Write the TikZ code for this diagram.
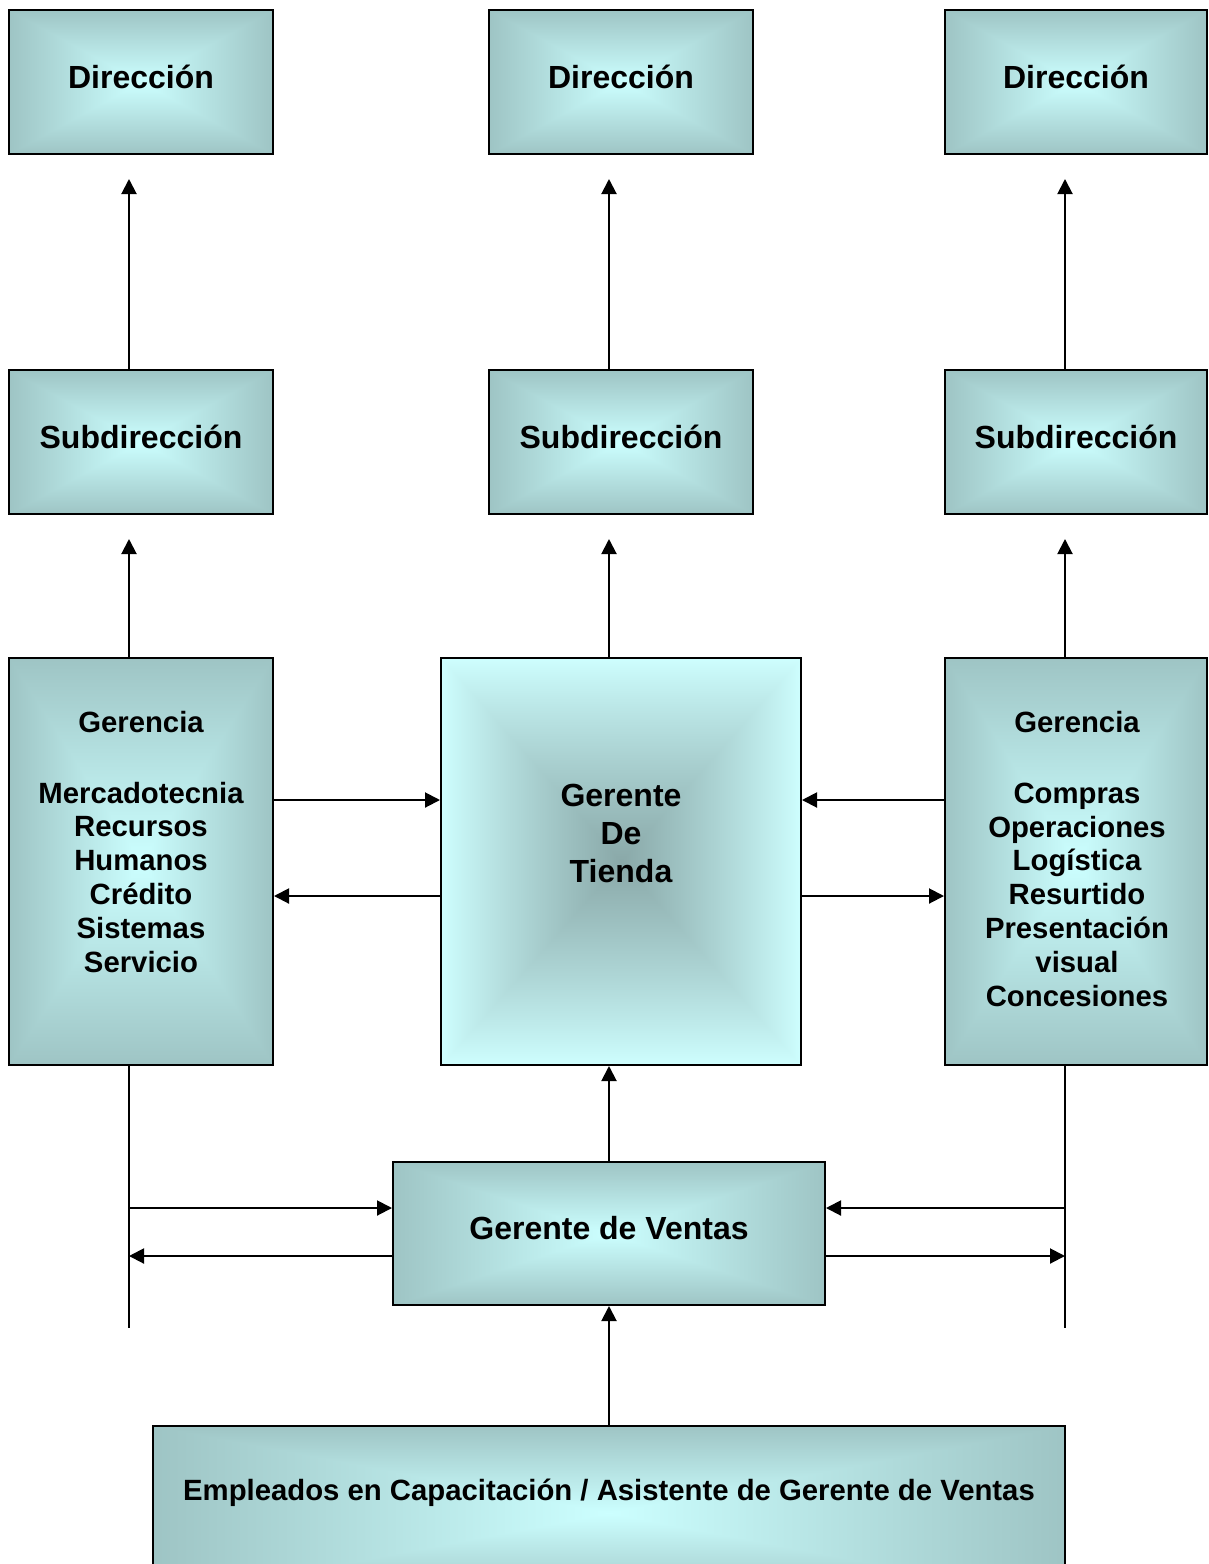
\documentclass[tikz,border=0pt]{standalone}
\usepackage{fontspec}
\setmainfont{Liberation Sans}
\usetikzlibrary{arrows.meta,calc}

\pgfdeclarefunctionalshading{boxsh}{\pgfpoint{0bp}{0bp}}{\pgfpoint{100bp}{100bp}}{}{
 50 sub abs 25 div exch 50 sub abs 25 div 2 copy lt {exch} if pop
 dup 1 gt {pop 1} if
 dup -0.18 mul 0.80 add exch dup -0.23 mul 1.0 add exch -0.23 mul 1.0 add
}
\pgfdeclarefunctionalshading{midsh}{\pgfpoint{0bp}{0bp}}{\pgfpoint{100bp}{100bp}}{}{
 50 sub abs 25 div exch 50 sub abs 25 div 2 copy lt {exch} if pop
 dup 1 gt {pop 1} if
 1 exch sub 0.9 exp
 dup -0.27 mul 0.81 add exch dup -0.34 mul 1.0 add exch -0.34 mul 1.0 add
}

\tikzset{
  box/.style={draw=black, line width=2pt, shading=boxsh, inner sep=0pt,
    font=\bfseries\fontsize{32}{37.6}\selectfont, text height=20pt, text depth=8pt},
  midbox/.style={draw=black, line width=2pt, shading=midsh, inner sep=0pt},
  txt/.style={font=\bfseries\fontsize{32}{37.6}\selectfont, align=center, inner sep=0pt},
  txtsm/.style={font=\bfseries\fontsize{29.3}{33.8}\selectfont, align=center, inner sep=0pt},
  conn/.style={line width=2pt},
  arr/.style={line width=2pt, -{Triangle[length=15pt,width=15pt]}},
}

\begin{document}
\begin{tikzpicture}[x=1pt,y=-1pt]
\useasboundingbox (0,0) rectangle (1209,1564);
\clip (0,0) rectangle (1209,1564);

% Dirección row
\node[box, minimum width=264pt, minimum height=144pt] (dir1) at (141,82) {Dirección};
\node[box, minimum width=264pt, minimum height=144pt] (dir2) at (621,82) {Dirección};
\node[box, minimum width=262pt, minimum height=144pt] (dir3) at (1076,82) {Dirección};

% Subdirección row
\node[box, minimum width=264pt, minimum height=144pt] (sub1) at (141,442) {Subdirección};
\node[box, minimum width=264pt, minimum height=144pt] (sub2) at (621,442) {Subdirección};
\node[box, minimum width=262pt, minimum height=144pt] (sub3) at (1076,442) {Subdirección};

% Gerencia row
\node[box, minimum width=264pt, minimum height=407pt] (g1) at (141,861.5) {};
\node[midbox, minimum width=360pt, minimum height=407pt] (gt) at (621,861.5) {};
\node[box, minimum width=262pt, minimum height=407pt] (g3) at (1076,861.5) {};

% multi-line texts: base anchor = baseline of last line
\node[txtsm, anchor=base] (g1t) at (141,972)
  {Gerencia\\[37pt]Mercadotecnia\\Recursos\\Humanos\\Crédito\\Sistemas\\Servicio};
\node[txt, anchor=base] (gtt) at (621,882) {Gerente\\De\\Tienda};
\node[txtsm, anchor=base] (g3t) at (1077,1006)
  {Gerencia\\[37pt]Compras\\Operaciones\\Logística\\Resurtido\\Presentación\\visual\\Concesiones};

% Gerente de Ventas
\node[box, minimum width=432pt, minimum height=143pt] (gv) at (609,1233.5) {Gerente de Ventas};

% Empleados
\node[box, minimum width=912pt, minimum height=174pt] (emp) at (609,1513) {};
\node[txtsm, anchor=base] (empt) at (609,1500)
  {Empleados en Capacitación / Asistente de Gerente de Ventas};

% vertical arrows up
\draw[arr] ([xshift=-12pt]sub1.north) -- ([xshift=-12pt,yshift=-24pt]dir1.south);
\draw[arr] ([xshift=-12pt]sub2.north) -- ([xshift=-12pt,yshift=-24pt]dir2.south);
\draw[arr] ([xshift=-11pt]sub3.north) -- ([xshift=-11pt,yshift=-24pt]dir3.south);
\draw[arr] ([xshift=-12pt]g1.north) -- ([xshift=-12pt,yshift=-24pt]sub1.south);
\draw[arr] ([xshift=-12pt]gt.north) -- ([xshift=-12pt,yshift=-24pt]sub2.south);
\draw[arr] ([xshift=-11pt]g3.north) -- ([xshift=-11pt,yshift=-24pt]sub3.south);

% horizontal arrows to/from Gerente de Tienda
\draw[arr] ([yshift=61.5pt]g1.east) -- ([yshift=61.5pt]gt.west);
\draw[arr] ([yshift=-34.5pt]gt.west) -- ([yshift=-34.5pt]g1.east);
\draw[arr] ([yshift=61.5pt]g3.west) -- ([yshift=61.5pt]gt.east);
\draw[arr] ([yshift=-34.5pt]gt.east) -- ([yshift=-34.5pt]g3.west);

% side bus lines
\coordinate (lend) at (129,1328);
\coordinate (rend) at (1065,1328);
\coordinate (la) at (129,1208);
\coordinate (lb) at (129,1256);
\coordinate (ra) at (1065,1208);
\coordinate (rb) at (1065,1256);
\draw[conn] ([xshift=-12pt]g1.south) -- (lend);
\draw[conn] ([xshift=-11pt]g3.south) -- (rend);
\draw[arr] (la) -- (la -| gv.west);
\draw[arr] (lb -| gv.west) -- (lb);
\draw[arr] (ra) -- (ra -| gv.east);
\draw[arr] (rb -| gv.east) -- (rb);

% center column
\draw[arr] (gv.north) -- (gv.north |- gt.south);
\draw[arr] (emp.north) -- (gv.south);
\end{tikzpicture}
\end{document}
